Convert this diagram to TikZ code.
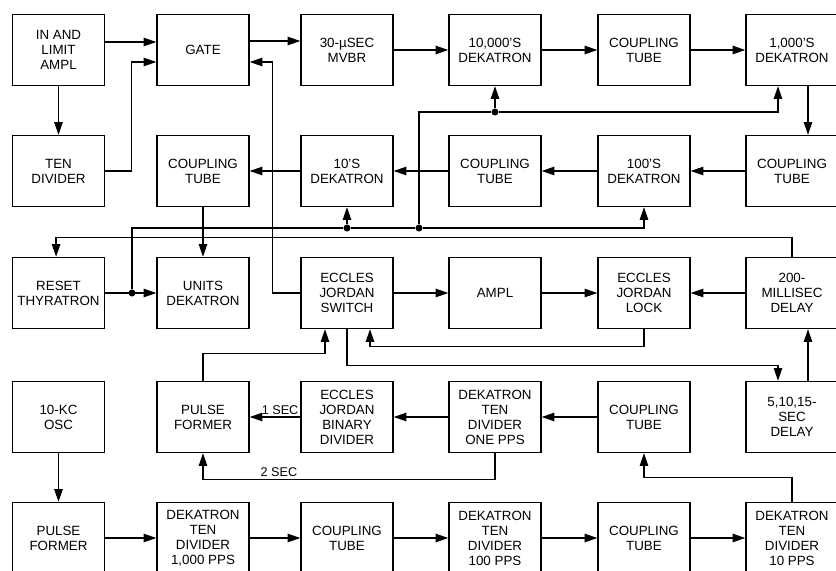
\documentclass[tikz,border=0pt]{standalone}
\usepackage{fontspec}
\setsansfont{Liberation Sans}
\usepackage{tikz}
\usetikzlibrary{arrows.meta}

\begin{document}
\begin{tikzpicture}[
    x=0.025cm, y=-0.025cm,
    blk/.style={draw, line width=1pt, minimum width=2.3cm, minimum height=1.775cm,
                inner sep=1pt, align=center,
                font=\sffamily\fontsize{9.5}{10.7}\selectfont},
    wire/.style={line width=0.9pt},
    arr/.style={wire, -{Triangle[length=9pt, width=6pt]}},
    dot/.style={circle, fill, inner sep=0pt, minimum size=5pt},
    lbl/.style={font=\sffamily\fontsize{9}{10}\selectfont, inner sep=1.5pt},
]
\useasboundingbox (0,0) rectangle (836,571);
\clip (0,0) rectangle (836,571);

%% ── Row 1: counter chain ─────────────────────────────────────────────────
\node[blk] (amp)   at (58.5, 50) {IN AND\\LIMIT\\AMPL};
\node[blk] (gate)  at (203,  50) {GATE};
\node[blk] (mvbr)  at (347,  50) {30-µSEC\\MVBR};
\node[blk] (dk10k) at (495,  50) {10,000'S\\DEKATRON};
\node[blk] (ctA)   at (644,  50) {COUPLING\\TUBE};
\node[blk] (dk1k)  at (792,  50) {1,000'S\\DEKATRON};

\draw[arr] ([yshift=0.2cm]amp.east) -- ([yshift=0.2cm]gate.west);
\draw[arr] ([yshift=0.225cm]gate.east) -- ([yshift=0.225cm]mvbr.west);
\draw[arr] (mvbr) -- (dk10k);
\draw[arr] (dk10k) -- (ctA);
\draw[arr] (ctA) -- (dk1k);

%% ── Row 2: counter chain, right to left ──────────────────────────────────
\node[blk] (tdiv)  at (58.5, 171) {TEN\\DIVIDER};
\node[blk] (ctC)   at (203,  171) {COUPLING\\TUBE};
\node[blk] (dk10)  at (347,  171) {10'S\\DEKATRON};
\node[blk] (ctD)   at (495,  171) {COUPLING\\TUBE};
\node[blk] (dk100) at (644,  171) {100'S\\DEKATRON};
\node[blk] (ctB)   at (792,  171) {COUPLING\\TUBE};

\draw[arr] (amp) -- (tdiv);
\draw[arr] (tdiv.east) -- ++(26,0) |- ([yshift=-0.3cm]gate.west);
\draw[arr] ([xshift=0.4cm]dk1k.south) -- ([xshift=0.4cm]ctB.north);
\draw[arr] (ctB) -- (dk100);
\draw[arr] (dk100) -- (ctD);
\draw[arr] (ctD) -- (dk10);
\draw[arr] (dk10) -- (ctC);

%% ── Row 3: reset and lock ────────────────────────────────────────────────
\node[blk] (reset)  at (58.5, 293) {RESET\\THYRATRON};
\node[blk] (units)  at (203,  293) {UNITS\\DEKATRON};
\node[blk] (ejs)    at (347,  293) {ECCLES\\JORDAN\\SWITCH};
\node[blk] (ampl)   at (495,  293) {AMPL};
\node[blk] (ejl)    at (644,  293) {ECCLES\\JORDAN\\LOCK};
\node[blk] (dly200) at (792,  293) {200-\\MILLISEC\\DELAY};

\draw[arr] (ctC) -- (units);
\draw[arr] (reset) -- (units);
\draw[arr] (ejs) -- (ampl);
\draw[arr] (ampl) -- (ejl);
\draw[arr] (dly200) -- (ejl);
\draw[arr] (ejs.west) -- ++(-28,0) |- ([yshift=-0.3cm]gate.east);
\draw[arr] (dly200.north) -- ++(0,-19) -| ([xshift=-0.06cm]reset.north);

%% ── Reset bus to the dekatrons ───────────────────────────────────────────
\node[dot] (j1) at (132, 293) {};
\node[dot] (j2) at (347, 228) {};
\node[dot] (j3) at (419, 228) {};
\node[dot] (j4) at (495, 112) {};

\draw[wire] (j1) |- (j2) -- (j3);
\draw[arr] (j2) -- (dk10.south);
\draw[arr] (j3) -| (dk100.south);
\draw[wire] (j3) |- (j4);
\draw[arr] (j4) -- (dk10k.south);
\draw[arr] (j4) -| ([xshift=-0.35cm]dk1k.south);

%% ── Row 4: timing ────────────────────────────────────────────────────────
\node[blk] (osc)   at (58.5, 417) {10-KC\\OSC};
\node[blk] (pf1)   at (203,  417) {PULSE\\FORMER};
\node[blk] (ejb)   at (347,  417) {ECCLES\\JORDAN\\BINARY\\DIVIDER};
\node[blk] (dkone) at (495,  417) {DEKATRON\\TEN\\DIVIDER\\ONE PPS};
\node[blk] (ctE)   at (644,  417) {COUPLING\\TUBE};
\node[blk] (dly5)  at (792,  417) {5,10,15-\\SEC\\DELAY};

\draw[arr] (ejl.south) -- ++(0,17) -| ([xshift=0.575cm]ejs.south);
\draw[arr] (ejs.south) -- ++(0,36) -| ([xshift=-0.35cm]dly5.north);
\draw[arr] ([xshift=0.4cm]dly5.north) -- ([xshift=0.4cm]dly200.south);
\draw[arr] (pf1.north) -- ++(0,-27) -| ([xshift=-0.55cm]ejs.south);
\draw[arr] (ejb) -- node[pos=0.4, above, lbl] {1 SEC} (pf1);
\draw[arr] (dkone) -- (ejb);
\draw[arr] (ctE) -- (dkone);
\draw[arr] (dkone.south) -- ++(0,26) -| node[pos=0.37, above, lbl] {2 SEC} (pf1.south);

%% ── Row 5: divider chain ─────────────────────────────────────────────────
\node[blk] (pf2)    at (58.5, 538) {PULSE\\FORMER};
\node[blk] (dk1000) at (203,  538) {DEKATRON\\TEN\\DIVIDER\\1,000 PPS};
\node[blk] (ctF)    at (347,  538) {COUPLING\\TUBE};
\node[blk] (dk100p) at (495,  538) {DEKATRON\\TEN\\DIVIDER\\100 PPS};
\node[blk] (ctG)    at (644,  538) {COUPLING\\TUBE};
\node[blk] (dk10p)  at (792,  538) {DEKATRON\\TEN\\DIVIDER\\10 PPS};

\draw[arr] (osc) -- (pf2);
\draw[arr] (pf2) -- (dk1000);
\draw[arr] (dk1000) -- (ctF);
\draw[arr] (ctF) -- (dk100p);
\draw[arr] (dk100p) -- (ctG);
\draw[arr] (ctG) -- (dk10p);
\draw[arr] (dk10p.north) -- ++(0,-24) -| (ctE.south);

\end{tikzpicture}
\end{document}
